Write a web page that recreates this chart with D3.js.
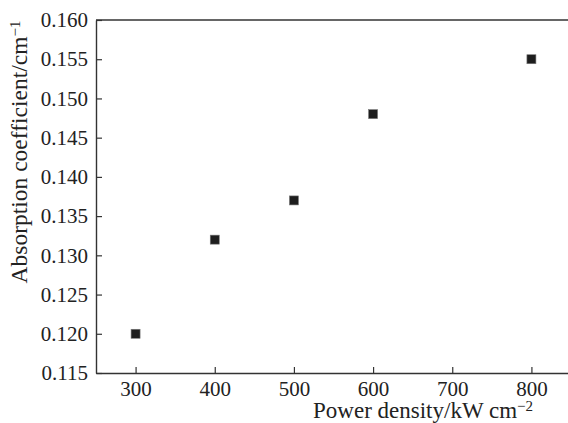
<!DOCTYPE html>
<html>
<head>
<meta charset="utf-8">
<script src="https://cdn.jsdelivr.net/npm/d3@7"></script>
<style>
  body { margin: 0; background: #fff; }
  svg { display: block; }
  svg text { font-family: "Liberation Serif", "DejaVu Serif", serif; }
</style>
</head>
<body>
<div id="chart"></div>
<script>
// data
var powerDensity = [300, 400, 500, 600, 800];
var absorption = [0.120, 0.132, 0.137, 0.148, 0.155];
var xTicks = [300, 400, 500, 600, 700, 800];
var yTicks = [0.115, 0.120, 0.125, 0.130, 0.135, 0.140, 0.145, 0.150, 0.155, 0.160];

var width = 568, height = 423;
var margin = { top: 20, left: 96, right: -3, bottom: 50 };

var svg = d3.select("#chart").append("svg")
  .attr("width", width)
  .attr("height", height);

var x = d3.scaleLinear()
  .domain([250, 850])
  .range([margin.left, width - margin.right]);

var y = d3.scaleLinear()
  .domain([0.115, 0.160])
  .range([height - margin.bottom, margin.top]);

var axisColor = "#333";

// bottom axis, ticks pointing into the plot
var xAxis = svg.append("g")
  .attr("transform", "translate(0," + y(0.115) + ")")
  .call(d3.axisBottom(x).tickValues(xTicks).tickSizeInner(-6).tickSizeOuter(0).tickPadding(7).tickFormat(d3.format("d")));

// left axis
var yAxis = svg.append("g")
  .attr("transform", "translate(" + x(250) + ",0)")
  .call(d3.axisLeft(y).tickValues(yTicks).tickSizeInner(-6).tickSizeOuter(0).tickPadding(8).tickFormat(d3.format(".3f")));

[xAxis, yAxis].forEach(function (g) {
  g.attr("font-family", null).attr("font-size", null);
  g.select(".domain").attr("stroke", axisColor).attr("stroke-width", 1.4);
  g.selectAll(".tick line").attr("stroke", axisColor).attr("stroke-width", 1.2);
  g.selectAll(".tick text").attr("fill", "#222").style("font-size", "21px");
});
xAxis.selectAll(".tick text").attr("dy", "0.75em");

// top frame line
svg.append("line")
  .attr("x1", x(250)).attr("x2", width)
  .attr("y1", y(0.160)).attr("y2", y(0.160))
  .attr("stroke", axisColor)
  .attr("stroke-width", 1.4);

// points
var s = 9;
svg.selectAll("rect.pt")
  .data(powerDensity)
  .enter()
  .append("rect")
  .attr("class", "pt")
  .attr("x", function (d) { return x(d) - s / 2; })
  .attr("y", function (d, i) { return y(absorption[i]) - s / 2; })
  .attr("width", s)
  .attr("height", s)
  .attr("fill", "#1e1e1e")
  .attr("stroke", "#777")
  .attr("stroke-width", 0.6);

// axis titles
var xt = svg.append("text")
  .attr("x", 533)
  .attr("y", 418)
  .attr("text-anchor", "end")
  .attr("fill", "#222")
  .style("font-size", "23px")
  .text("Power density/kW cm");
xt.append("tspan")
  .attr("dy", "-0.45em")
  .style("font-size", "15px")
  .text("\u22122");

var yt = svg.append("text")
  .attr("transform", "translate(27,152) rotate(-90)")
  .attr("text-anchor", "middle")
  .attr("fill", "#222")
  .style("font-size", "23.5px")
  .text("Absorption coefficient/cm");
yt.append("tspan")
  .attr("dy", "-0.45em")
  .style("font-size", "15px")
  .text("\u22121");
</script>
</body>
</html>
